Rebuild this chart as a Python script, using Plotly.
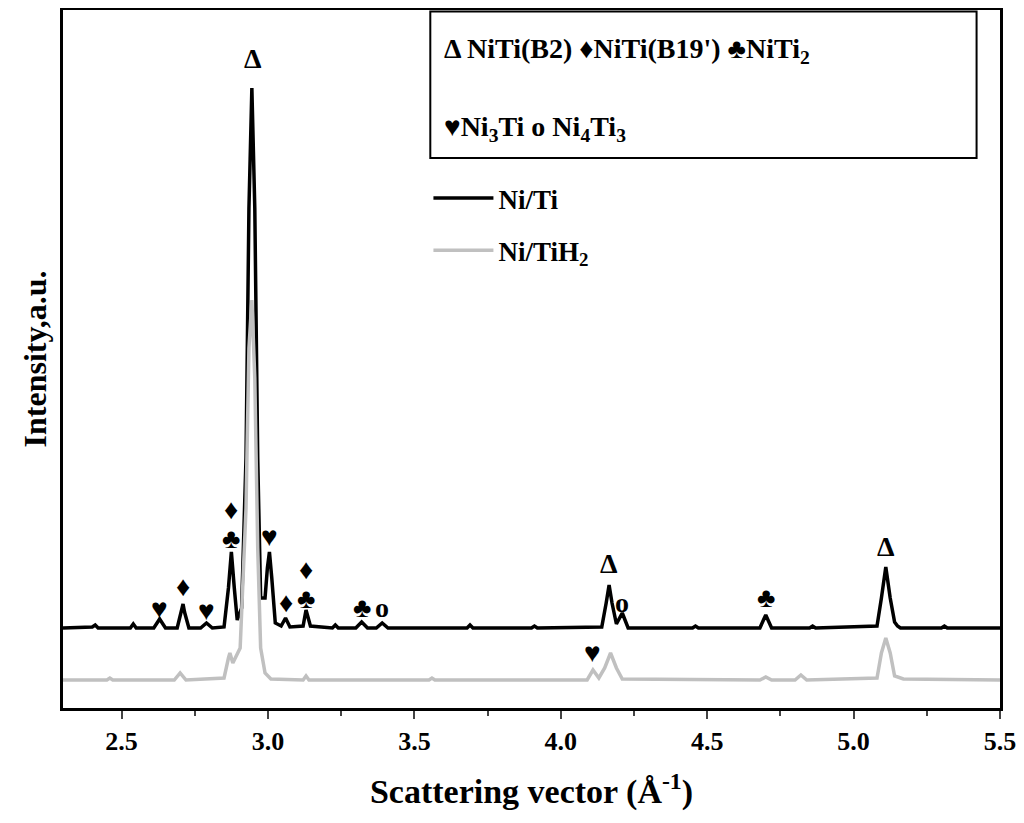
import plotly.graph_objects as go

## Data (y in arbitrary units)

niti_x = [2.30, 2.40, 2.41, 2.42, 2.53, 2.54, 2.55, 2.61, 2.63, 2.65, 2.69, 2.705, 2.71, 2.715, 2.73,
          2.77, 2.79, 2.81, 2.85, 2.865, 2.875, 2.885, 2.895, 2.91, 2.925, 2.935, 2.945, 2.955, 2.965,
          2.975, 2.99, 2.998, 3.005, 3.013, 3.025, 3.045, 3.06, 3.075, 3.12, 3.13, 3.145, 3.22, 3.23,
          3.24, 3.30, 3.32, 3.34, 3.37, 3.39, 3.41, 3.68, 3.69, 3.70, 3.90, 3.91, 3.92, 4.14, 4.155,
          4.165, 4.175, 4.19, 4.21, 4.23, 4.45, 4.46, 4.47, 4.68, 4.70, 4.72, 4.85, 4.86, 4.87, 5.08,
          5.095, 5.11, 5.125, 5.14, 5.15, 5.16, 5.30, 5.31, 5.32, 5.5]
niti_y = [80, 81, 83, 80, 80, 84, 80, 80, 89, 80, 80, 96, 104, 96, 80,
          80, 85, 80, 81, 120, 156, 120, 88, 100, 250, 500, 620, 500, 250,
          110, 110, 140, 156, 130, 85, 82, 90, 81, 82, 98, 82, 80, 83,
          80, 80, 86, 80, 80, 85, 80, 80, 83, 80, 80, 82, 80, 81, 105,
          123, 105, 84, 95, 80, 80, 82, 80, 80, 93, 80, 80, 82, 80, 82,
          110, 141, 110, 86, 82, 80, 80, 82, 80, 80]

tih2_x = [2.30, 2.45, 2.46, 2.47, 2.68, 2.70, 2.72, 2.85, 2.865, 2.87, 2.88, 2.895, 2.905, 2.925,
          2.935, 2.945, 2.955, 2.965, 2.975, 2.99, 3.01, 3.12, 3.13, 3.14, 3.55, 3.56, 3.57, 4.09,
          4.11, 4.13, 4.15, 4.17, 4.19, 4.21, 4.68, 4.70, 4.72, 4.80, 4.82, 4.84, 5.08, 5.095, 5.11,
          5.125, 5.14, 5.17, 5.5]
tih2_y = [28, 28, 30, 28, 28, 35, 28, 30, 50, 55, 45, 55, 60, 200,
          360, 408, 330, 160, 60, 35, 29, 28, 32, 28, 28, 30, 28, 28,
          38, 30, 40, 55, 40, 29, 28, 31, 28, 28, 33, 28, 30, 55, 70,
          55, 32, 29, 28]

# phase markers: symbol, position, height
mark_sym = ["Δ", "♦", "♣", "♥", "♦", "♥", "♥", "♦", "♦", "♣", "♣", "o", "Δ", "o", "♣", "Δ", "♥"]
mark_x = [2.95, 2.875, 2.875, 3.005, 2.71, 2.63, 2.79, 3.06, 3.13, 3.13, 3.32, 3.39, 4.165, 4.21, 4.70, 5.11, 4.11]
mark_y = [650, 199, 170, 172, 122, 100, 98, 106, 139, 110, 101, 101, 145, 106, 111, 162, 56]

## Figure

fig = go.Figure()
fig.add_scatter(x=niti_x, y=niti_y, mode="lines", line=dict(color="black", width=3.5),
                name="<b>Ni/Ti</b>", legendgroup="a")
fig.add_scatter(x=tih2_x, y=tih2_y, mode="lines", line=dict(color="#c0c0c0", width=3.5),
                name="<b>Ni/TiH<sub>2</sub></b>", legendgroup="b")

for s, x, y in zip(mark_sym, mark_x, mark_y):
    fig.add_annotation(x=x, y=y, text="<b>" + s + "</b>", showarrow=False, font=dict(size=28, color="black"))

# phase legend box
fig.add_shape(type="rect", xref="paper", yref="paper", x0=0.392, x1=0.975, y0=0.788, y1=0.998,
              line=dict(color="black", width=2))
fig.add_annotation(xref="paper", yref="paper", x=0.405, y=0.97, xanchor="left", showarrow=False,
                   text="<b>Δ NiTi(B2) ♦NiTi(B19') ♣NiTi<sub>2</sub></b>", font=dict(size=28, color="black"))
fig.add_annotation(xref="paper", yref="paper", x=0.405, y=0.858, xanchor="left", showarrow=False,
                   text="<b>♥Ni<sub>3</sub>Ti o Ni<sub>4</sub>Ti<sub>3</sub></b>", font=dict(size=28, color="black"))

fig.update_xaxes(range=[2.3, 5.5], dtick=0.5, tickformat=".1f", ticks="outside", ticklen=8, tickwidth=2,
                 minor=dict(dtick=0.25, ticks="outside", ticklen=5, tickwidth=2),
                 showline=True, linewidth=2.5, linecolor="black", mirror=True, showgrid=False,
                 tickfont=dict(size=26, weight="bold"), zeroline=False, automargin=False,
                 title=dict(text="<b>Scattering vector (Å<sup>-1</sup>)</b>", font=dict(size=34), standoff=25))
fig.update_yaxes(range=[0, 698], showticklabels=False, ticks="", showline=True, linewidth=2.5,
                 linecolor="black", mirror=True, showgrid=False, zeroline=False, automargin=False,
                 title=dict(text="<b>Intensity,a.u.</b>", font=dict(size=32), standoff=5))
fig.update_layout(width=1024, height=823, plot_bgcolor="white", paper_bgcolor="white",
                  margin=dict(l=55, r=32, t=2, b=123),
                  font=dict(family="Liberation Serif", color="black"),
                  legend=dict(x=0.39, y=0.765, xanchor="left", yanchor="top", bgcolor="rgba(0,0,0,0)",
                              font=dict(size=27), itemwidth=60, tracegroupgap=14))
fig.write_html("out.html")
